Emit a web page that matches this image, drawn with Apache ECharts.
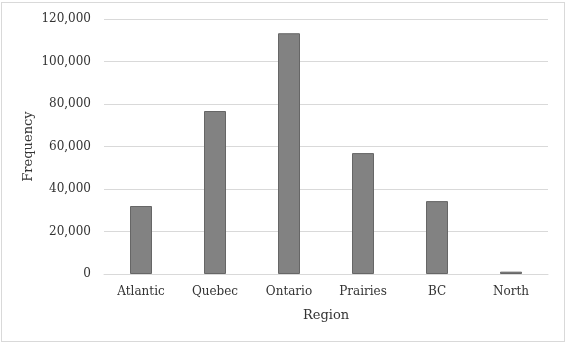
<!DOCTYPE html>
<html>
<head>
<meta charset="utf-8">
<script src="https://cdn.jsdelivr.net/npm/echarts@6/dist/echarts.min.js"></script>
<style>
  html, body { margin: 0; padding: 0; background: #fff; }
  #chart { width: 570px; height: 345px; }
  .frame { position: absolute; left: 1px; top: 2px; width: 562px; height: 338px; border: 1px solid #d9d9d9; pointer-events: none; }
</style>
</head>
<body>
<div id="chart"></div>
<div class="frame"></div>
<script>
// regions and counts
var regions = ['Atlantic', 'Quebec', 'Ontario', 'Prairies', 'BC', 'North'];
var frequency = [32000, 76700, 113300, 56900, 34300, 1100];

var textColor = '#333333';
var font = 'DejaVu Serif';

var myChart = echarts.init(document.getElementById('chart'));
var option = {
    animation: false,
    grid: { left: 104, right: 22, top: 19, bottom: 71 },
    xAxis: {
        type: 'category',
        data: regions,
        name: 'Region',
        nameLocation: 'middle',
        nameGap: 35,
        nameMoveOverlap: false,
        nameTextStyle: { fontFamily: font, fontSize: 13, color: textColor },
        axisLine: { lineStyle: { color: '#d9d9d9', width: 1 } },
        axisTick: { show: false },
        axisLabel: { fontFamily: font, fontSize: 12, color: textColor, margin: 12 }
    },
    yAxis: {
        type: 'value',
        min: 0,
        max: 120000,
        interval: 20000,
        name: 'Frequency',
        nameLocation: 'middle',
        nameGap: 69,
        nameMoveOverlap: false,
        nameTextStyle: { fontFamily: font, fontSize: 13, color: textColor },
        axisLine: { show: false },
        axisTick: { show: false },
        splitLine: { lineStyle: { color: '#d9d9d9', width: 1 } },
        axisLabel: {
            fontFamily: font, fontSize: 12, color: textColor, margin: 13,
            formatter: function (v) { return v.toLocaleString('en-US'); }
        }
    },
    series: [{
        type: 'bar',
        data: frequency,
        barWidth: 22,
        itemStyle: { color: '#828282', borderColor: '#666666', borderWidth: 1 }
    }]
};
myChart.setOption(option);
</script>
</body>
</html>
